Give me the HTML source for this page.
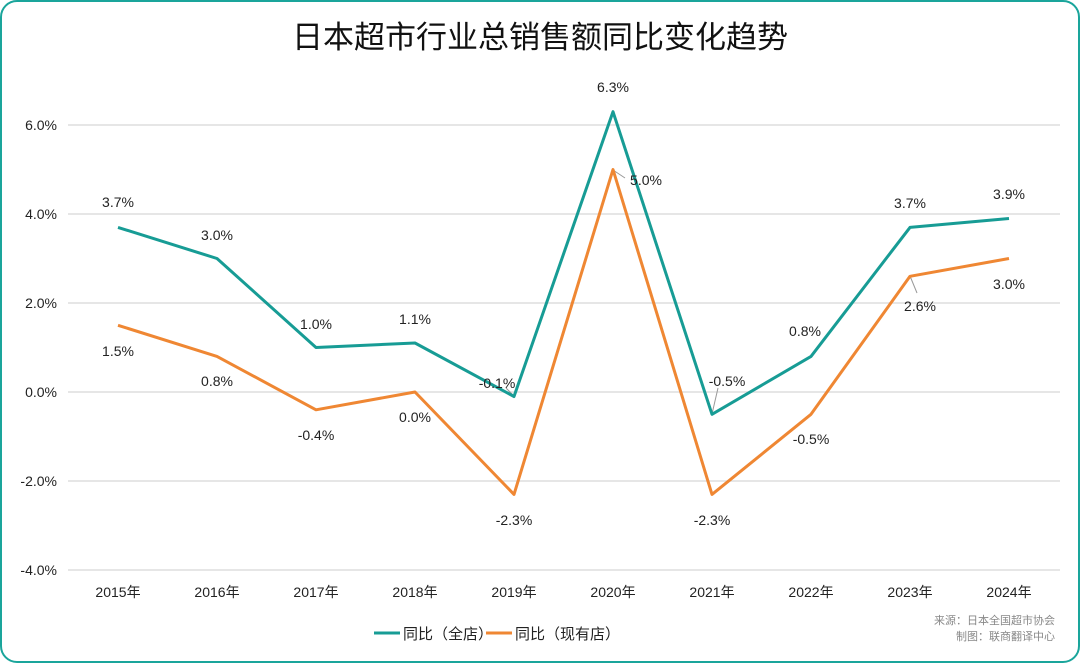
<!DOCTYPE html>
<html><head><meta charset="utf-8"><style>
body{margin:0;background:#fff}
svg text{font-family:"Liberation Sans","Noto Sans CJK SC",sans-serif}
</style></head><body>
<svg width="1080" height="664" viewBox="0 0 1080 664" xmlns="http://www.w3.org/2000/svg">
<rect x="1" y="1" width="1078" height="661" rx="16" fill="#fff" stroke="#1aa59b" stroke-width="2"/>
<text x="540" y="48" text-anchor="middle" font-size="31" fill="#111">日本超市行业总销售额同比变化趋势</text>
<g stroke="#dedede" stroke-width="1.5">
<line x1="68" y1="125" x2="1060" y2="125"/><line x1="68" y1="214" x2="1060" y2="214"/>
<line x1="68" y1="303" x2="1060" y2="303"/><line x1="68" y1="392" x2="1060" y2="392"/>
<line x1="68" y1="481" x2="1060" y2="481"/><line x1="68" y1="570" x2="1060" y2="570"/>
</g>
<g font-size="14" fill="#222" text-anchor="end">
<text x="57" y="130">6.0%</text><text x="57" y="219">4.0%</text><text x="57" y="308">2.0%</text>
<text x="57" y="397">0.0%</text><text x="57" y="486">-2.0%</text><text x="57" y="575">-4.0%</text>
</g>
<g font-size="14" fill="#222" text-anchor="middle">
<text x="118" y="597">2015年</text><text x="217" y="597">2016年</text><text x="316" y="597">2017年</text>
<text x="415" y="597">2018年</text><text x="514" y="597">2019年</text><text x="613" y="597">2020年</text>
<text x="712" y="597">2021年</text><text x="811" y="597">2022年</text><text x="910" y="597">2023年</text>
<text x="1009" y="597">2024年</text>
</g>
<g stroke="#999" stroke-width="1" fill="none">
<line x1="514" y1="396" x2="506" y2="388"/><line x1="613" y1="170" x2="625" y2="178"/>
<line x1="712" y1="414" x2="718" y2="388"/><line x1="910" y1="276" x2="917" y2="293"/>
</g>
<polyline fill="none" stroke="#ef8733" stroke-width="3" stroke-linejoin="round" points="118,325.3 217,356.4 316,409.8 415,392 514,494.4 613,169.5 712,494.4 811,414.3 910,276.3 1009,258.5"/>
<polyline fill="none" stroke="#179c95" stroke-width="3" stroke-linejoin="round" points="118,227.4 217,258.5 316,347.5 415,343 514,396.5 613,111.7 712,414.3 811,356.4 910,227.4 1009,218.5"/>
<g font-size="14" fill="#222" text-anchor="middle">
<text x="118" y="207">3.7%</text><text x="217" y="240">3.0%</text><text x="316" y="329">1.0%</text>
<text x="415" y="324">1.1%</text><text x="497" y="388">-0.1%</text><text x="613" y="92">6.3%</text>
<text x="727" y="386">-0.5%</text><text x="805" y="336">0.8%</text><text x="910" y="208">3.7%</text>
<text x="1009" y="199">3.9%</text>
<text x="118" y="356">1.5%</text><text x="217" y="386">0.8%</text><text x="316" y="440">-0.4%</text>
<text x="415" y="422">0.0%</text><text x="514" y="525">-2.3%</text><text x="646" y="185">5.0%</text>
<text x="712" y="525">-2.3%</text><text x="811" y="444">-0.5%</text><text x="920" y="311">2.6%</text>
<text x="1009" y="289">3.0%</text>
</g>
<line x1="374" y1="633" x2="400" y2="633" stroke="#179c95" stroke-width="3"/>
<text x="403" y="639" font-size="15" fill="#222">同比（全店）</text>
<line x1="486" y1="633" x2="512" y2="633" stroke="#ef8733" stroke-width="3"/>
<text x="515" y="639" font-size="15" fill="#222">同比（现有店）</text>
<g font-size="11" fill="#888" text-anchor="end">
<text x="1055" y="624">来源：日本全国超市协会</text>
<text x="1055" y="640">制图：联商翻译中心</text>
</g>
</svg>
</body></html>
